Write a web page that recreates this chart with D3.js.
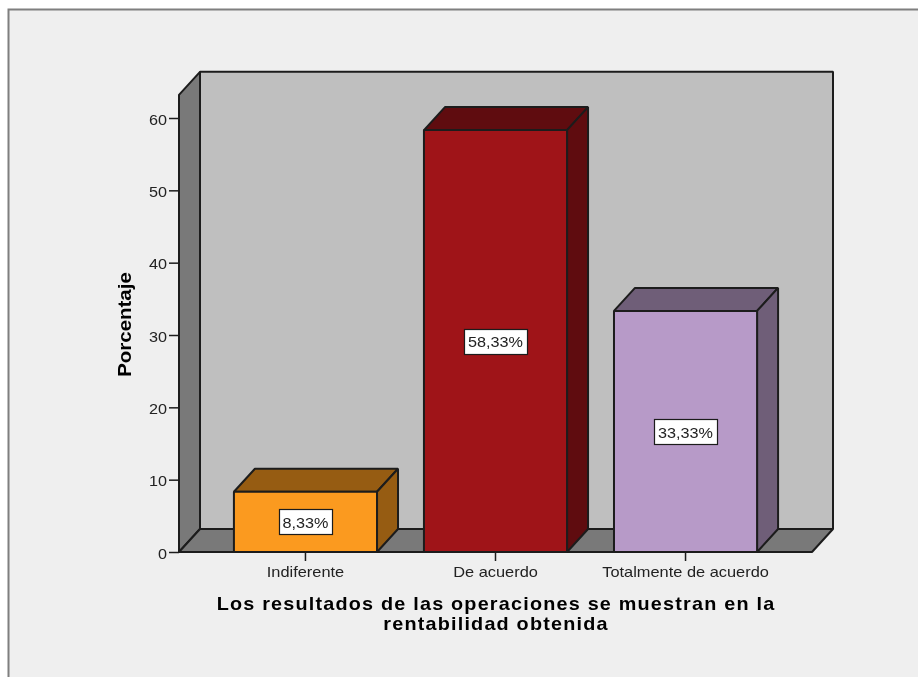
<!DOCTYPE html>
<html><head><meta charset="utf-8">
<script src="https://cdn.jsdelivr.net/npm/d3@7"></script>
<style>html,body{margin:0;padding:0;background:#fff}svg{display:block;filter:blur(0.45px)}text{font-family:"Liberation Sans",Arial,sans-serif;fill:#222}</style>
</head><body><svg id="c" width="918" height="677"></svg>
<script>
const categories=["Indiferente","De acuerdo","Totalmente de acuerdo"];
const values=[8.33,58.33,33.33];
const labels=["8,33%","58,33%","33,33%"];
const yTicks=[0,10,20,30,40,50,60];
const frontColors=["#fb9a1f","#9f1418","#b79ac8"];
const darkColors=["#965c12","#5f0c0f","#6f5e78"];
const titleLines=["Los resultados de las operaciones se muestran en la","rentabilidad obtenida"];
const yTitle="Porcentaje";
const W=918,H=677,dx=21,dy=23,yMax=63.2,ink="#1c1c1c";
const svg=d3.select("#c");
const y=d3.scaleLinear().domain([0,60]).range([552,118]);
const x=d3.scaleBand().domain(categories).range([179,812]).paddingInner(0.247).paddingOuter(0.289);
const line=d3.line();
const poly=(pts,fill,sw=2)=>svg.append("path").attr("d",line(pts)+"Z").attr("fill",fill).attr("stroke",ink).attr("stroke-width",sw).attr("stroke-linejoin","bevel");
// frame
svg.append("rect").attr("x",8.5).attr("y",9.5).attr("width",W+20).attr("height",H+20).attr("fill","#efefef").attr("stroke","#7f7f7f").attr("stroke-width",2);
const x0=x.range()[0],x1=x.range()[1],yb=y(0),yt=y(yMax);
// walls
poly([[x0+dx,yt-dy],[x1+dx,yt-dy],[x1+dx,yb-dy],[x0+dx,yb-dy]],"#bfbfbf");
poly([[x0,yt],[x0+dx,yt-dy],[x0+dx,yb-dy],[x0,yb]],"#797979");
poly([[x0,yb],[x0+dx,yb-dy],[x1+dx,yb-dy],[x1,yb]],"#797979");
// bars
categories.forEach((c,i)=>{
  const l=x(c),r=l+x.bandwidth(),t=y(values[i]);
  poly([[l,t],[l+dx,t-dy],[r+dx,t-dy],[r,t]],darkColors[i]);
  poly([[r,t],[r+dx,t-dy],[r+dx,yb-dy],[r,yb]],darkColors[i]);
  poly([[l,t],[r,t],[r,yb],[l,yb]],frontColors[i]);
});
// axes
const ay=svg.append("g").attr("transform",`translate(${x0},0)`).call(d3.axisLeft(y).tickValues(yTicks).tickSize(10).tickPadding(2));
ay.select(".domain").remove();
ay.selectAll("line").attr("stroke",ink).attr("stroke-width",1.5);
ay.selectAll("text").attr("font-size",15).attr("transform","translate(-12,1.5) scale(1.08,1) translate(12,0)").style("fill","#222");
const ax=svg.append("g").attr("transform",`translate(0,${yb})`).call(d3.axisBottom(x).tickSize(9).tickPadding(3));
ax.select(".domain").remove();
ax.selectAll("line").attr("stroke",ink).attr("stroke-width",1.5);
ax.selectAll("text").attr("font-size",14.5).attr("transform","translate(0,2.5) scale(1.13,1)").style("fill","#222");
// value labels
categories.forEach((c,i)=>{
  const cx=x(c)+x.bandwidth()/2,cy=(y(values[i])+yb)/2;
  const w=labels[i].length>5?63:53;
  svg.append("rect").attr("x",Math.round(cx-w/2)+.5).attr("y",Math.round(cy-12.5)+.5).attr("width",w).attr("height",25).attr("fill","#fff").attr("stroke",ink).attr("stroke-width",1.2);
  svg.append("text").attr("transform",`translate(${cx},${cy+1}) scale(1.08,1)`).attr("dy","0.35em").attr("text-anchor","middle").attr("font-size",15).text(labels[i]);
});
// titles
svg.append("text").attr("transform",`translate(131,324.5) rotate(-90) scale(1.17,1)`).attr("text-anchor","middle").attr("font-size",17.5).attr("font-weight","bold").style("fill","#000").text(yTitle);
titleLines.forEach((t,i)=>svg.append("text").attr("transform",`translate(496,${610+i*20}) scale(1.1,1)`).attr("text-anchor","middle").attr("font-size",18).attr("font-weight","bold").attr("letter-spacing",1.1).style("fill","#000").text(t));
</script></body></html>
